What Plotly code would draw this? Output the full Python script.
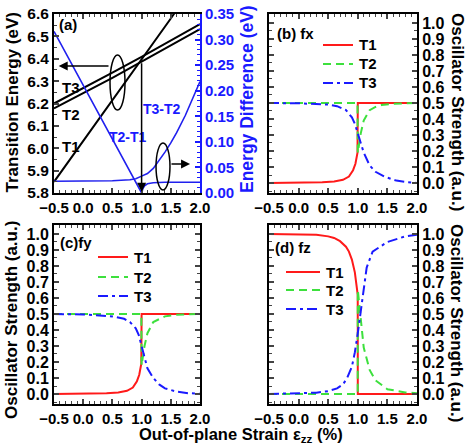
import plotly.graph_objects as go

# ---------------- data ----------------
# Panel (a): transition energies (eV)
x_E = [-0.5, 0.0, 0.5, 1.0, 1.5, 2.0]
E_steep = [5.85, 6.032, 6.216, 6.398, 6.58, 6.77]
E_low = [6.178, 6.245, 6.315, 6.387, 6.46, 6.532]
E_up = [6.200, 6.268, 6.338, 6.408, 6.482, 6.555]

# Panel (a): energy differences (eV)
x_d21 = [-0.5, 0.0, 0.5, 0.8, 0.9, 0.95, 1.0, 1.02, 1.05, 1.1, 1.2, 1.4, 2.0]
d21 = [0.316, 0.211, 0.106, 0.043, 0.022, 0.011, 0.0, 0.008, 0.014, 0.018, 0.020, 0.021, 0.021]
x_d32 = [-0.5, 0.0, 0.5, 0.8, 0.9, 1.0, 1.1, 1.2, 1.3, 1.4, 1.5, 1.6, 1.75, 1.9, 2.0]
d32 = [0.023, 0.023, 0.024, 0.026, 0.028, 0.033, 0.038, 0.048, 0.063, 0.08, 0.098, 0.118, 0.152, 0.19, 0.218]

# Panel (b): fx
xb_T1 = [-0.5, 0.0, 0.4, 0.6, 0.75, 0.85, 0.92, 0.96, 0.995, 1.0, 1.5, 2.0]
fb_T1 = [0.0, 0.002, 0.005, 0.01, 0.02, 0.04, 0.08, 0.12, 0.19, 0.5, 0.5, 0.5]
xb_T2 = [-0.5, 0.5, 0.995, 1.0, 1.05, 1.1, 1.2, 1.3, 1.4, 1.6, 2.0]
fb_T2 = [0.5, 0.5, 0.5, 0.19, 0.31, 0.39, 0.455, 0.475, 0.487, 0.495, 0.5]
xb_T3 = [-0.5, 0.0, 0.5, 0.65, 0.8, 0.9, 0.95, 1.0, 1.05, 1.1, 1.2, 1.3, 1.45, 1.65, 1.85, 2.0]
fb_T3 = [0.5, 0.498, 0.49, 0.48, 0.456, 0.41, 0.37, 0.31, 0.25, 0.19, 0.11, 0.07, 0.04, 0.015, 0.005, 0.0]

# Panel (c): fy
xc_T1 = [-0.5, 0.0, 0.4, 0.6, 0.75, 0.85, 0.92, 0.96, 0.995, 1.0, 1.5, 2.0]
fc_T1 = [0.0, 0.002, 0.005, 0.01, 0.02, 0.04, 0.08, 0.12, 0.19, 0.5, 0.5, 0.5]
xc_T2 = [-0.5, 0.5, 0.995, 1.0, 1.05, 1.1, 1.2, 1.4, 1.6, 2.0]
fc_T2 = [0.5, 0.5, 0.5, 0.18, 0.30, 0.38, 0.45, 0.485, 0.495, 0.5]
xc_T3 = [-0.5, 0.0, 0.5, 0.7, 0.8, 0.9, 0.95, 1.0, 1.05, 1.1, 1.2, 1.3, 1.4, 1.6, 1.8, 2.0]
fc_T3 = [0.5, 0.497, 0.485, 0.47, 0.45, 0.41, 0.37, 0.30, 0.22, 0.16, 0.10, 0.06, 0.035, 0.015, 0.005, 0.002]

# Panel (d): fz
xd_T1 = [-0.5, 0.0, 0.3, 0.5, 0.6, 0.7, 0.8, 0.85, 0.9, 0.95, 0.98, 0.999, 1.0, 2.0]
fd_T1 = [1.0, 0.998, 0.995, 0.985, 0.975, 0.955, 0.92, 0.89, 0.84, 0.76, 0.69, 0.62, 0.0, 0.0]
xd_T2 = [-0.5, 0.5, 0.999, 1.0, 1.05, 1.1, 1.2, 1.3, 1.5, 1.8, 2.0]
fd_T2 = [0.0, 0.0, 0.0, 0.65, 0.47, 0.29, 0.15, 0.085, 0.03, 0.01, 0.005]
xd_T3 = [-0.5, 0.0, 0.3, 0.5, 0.65, 0.75, 0.82, 0.9, 0.95, 1.0, 1.05, 1.1, 1.15, 1.25, 1.5, 1.8, 2.0]
fd_T3 = [0.0, 0.003, 0.008, 0.018, 0.035, 0.06, 0.1, 0.17, 0.26, 0.38, 0.52, 0.68, 0.79, 0.89, 0.95, 0.985, 0.995]

series_names = ["T1", "T2", "T3"]

# ---------------- style ----------------
W, H = 468, 444
FONT = "Liberation Sans, Arial, sans-serif"
RED, GREEN, BLUE = "#ff1a1a", "#3de03d", "#1a1aff"
styles = [dict(color=RED, width=2, dash="solid"),
          dict(color=GREEN, width=2, dash="8px,5px"),
          dict(color=BLUE, width=2, dash="10px,4px,3px,4px")]

def px_x(a, b):
    return [a / W, b / W]

def px_y(top, bottom):
    return [1 - bottom / H, 1 - top / H]

fig = go.Figure()

# panel (a)
for xs, ys in [(x_E, E_steep), (x_E, E_low), (x_E, E_up)]:
    fig.add_trace(go.Scatter(x=xs, y=ys, mode="lines", line=dict(color="black", width=2),
                             xaxis="x", yaxis="y", showlegend=False))
for xs, ys in [(x_d21, d21), (x_d32, d32)]:
    fig.add_trace(go.Scatter(x=xs, y=ys, mode="lines", line=dict(color="#2020ee", width=1.6),
                             xaxis="x", yaxis="y2", showlegend=False))

panels = [
    ("x2", "y3", [(xb_T1, fb_T1), (xb_T2, fb_T2), (xb_T3, fb_T3)]),
    ("x3", "y4", [(xc_T1, fc_T1), (xc_T2, fc_T2), (xc_T3, fc_T3)]),
    ("x4", "y5", [(xd_T1, fd_T1), (xd_T2, fd_T2), (xd_T3, fd_T3)]),
]
for xa, ya, data in panels:
    for name, (xs, ys), st in zip(series_names, data, styles):
        fig.add_trace(go.Scatter(x=xs, y=ys, mode="lines", name=name, line=st,
                                 xaxis=xa, yaxis=ya, showlegend=False))

xtickfont = dict(family=FONT, size=15, color="black")
tickfont = dict(family=FONT, size=16, color="black")
common_tick = dict(tickprefix="<b>", ticksuffix="</b>", tickangle=0, automargin=False,
                   ticks="inside", ticklen=5, tickwidth=1.5, showgrid=False, zeroline=False)

def xaxis(domain, anchor):
    return dict(domain=domain, anchor=anchor, range=[-0.5, 2.0], dtick=0.5, tick0=-0.5,
                tickformat=".1f",
                minor=dict(ticks="inside", dtick=0.1, ticklen=3, tickwidth=1),
                showline=True, linewidth=2, linecolor="black", mirror="ticks",
                tickfont=xtickfont, ticklabelstandoff=0, **common_tick)

def oscaxis(domain, anchor, side):
    return dict(domain=domain, anchor=anchor, side=side, range=[-0.0625, 1.056], dtick=0.1,
                tick0=0, tickformat=".1f",
                minor=dict(ticks="inside", dtick=0.05, ticklen=3, tickwidth=1),
                showline=True, linewidth=2, linecolor="black", mirror="ticks",
                tickfont=tickfont, **common_tick)

xa_dom = px_x(54, 200)
xb_dom = px_x(269, 417)
top_dom = px_y(14, 193)
bot_dom = px_y(225, 404)

fig.update_layout(
    width=W, height=H, margin=dict(l=0, r=0, t=0, b=0, autoexpand=False),
    paper_bgcolor="white", plot_bgcolor="white", showlegend=False,
    font=dict(family=FONT, color="black"),
    xaxis=xaxis(xa_dom, "y"),
    yaxis=dict(domain=top_dom, anchor="x", range=[5.8, 6.6], dtick=0.1, tick0=5.8,
               tickformat=".1f",
               minor=dict(ticks="inside", dtick=0.05, ticklen=3, tickwidth=1),
               showline=True, linewidth=2, linecolor="black",
               tickfont=dict(family=FONT, size=15.5, color="black"), **common_tick),
    yaxis2=dict(overlaying="y", anchor="x", side="right", range=[0, 0.35], dtick=0.05,
                tickformat=".2f", tickcolor=BLUE,
                minor=dict(ticks="inside", dtick=0.01, ticklen=3, tickwidth=1, tickcolor=BLUE),
                showline=True, linewidth=2, linecolor=BLUE,
                tickfont=dict(family=FONT, size=15, color=BLUE), **common_tick),
    xaxis2=xaxis(xb_dom, "y3"),
    yaxis3=oscaxis(top_dom, "x2", "right"),
    xaxis3=xaxis(xa_dom, "y4"),
    yaxis4=oscaxis(bot_dom, "x3", "left"),
    xaxis4=xaxis(xb_dom, "y5"),
    yaxis5=oscaxis(bot_dom, "x4", "right"),
)

def fnt(size, color="black"):
    return dict(family=FONT, size=size, color=color)

def B(t):
    return "<b>" + t + "</b>"

ann = []

def paper_text(text, x, y, size, color="black", angle=0, xanchor="center"):
    ann.append(dict(text=B(text), x=x / W, y=1 - y / H, xref="paper", yref="paper",
                    xanchor=xanchor, yanchor="middle", textangle=angle, showarrow=False,
                    font=fnt(size, color)))

# axis titles
paper_text("Transition Energy (eV)", 12.5, 103, 17, angle=-90)
paper_text("Energy Difference (eV)", 247, 99, 17.5, BLUE, angle=-90)
paper_text("Oscillator Strength (a.u.)", 457, 112, 17, angle=90)
paper_text("Oscillator Strength (a.u.)", 11, 320, 17, angle=-90)
paper_text("Oscillator Strength (a.u.)", 457, 323, 17, angle=90)
paper_text("Out-of-plane Strain ε<sub>zz</sub> (%)", 241, 435, 16.5)

# legends (drawn as sample line + label)
legend_specs = [
    (323, 353, [45, 64, 83]),
    (98, 128, [257, 277, 296]),
    (286, 320, [272, 290, 309]),
]
for x0, x1, ys in legend_specs:
    for name, st, yy in zip(series_names, styles, ys):
        fig.add_shape(type="line", xref="paper", yref="paper", x0=x0 / W, x1=x1 / W,
                      y0=1 - yy / H, y1=1 - yy / H, line=st)
        paper_text(name, x1 + 4, yy, 15, xanchor="left")

def data_text(text, x, y, xr, yr, size, color="black", xanchor="center"):
    ann.append(dict(text=B(text), x=x, y=y, xref=xr, yref=yr, xanchor=xanchor, yanchor="middle",
                    showarrow=False, font=fnt(size, color)))

# panel labels
data_text("(a)", -0.454, 6.551, "x", "y", 15, xanchor="left")
data_text("(b) fx", -0.399, 0.936, "x2", "y3", 15, xanchor="left")
data_text("(c)fy", -0.433, 0.946, "x3", "y4", 15, xanchor="left")
data_text("(d) fz", -0.427, 0.915, "x4", "y5", 15, xanchor="left")

# curve labels in (a)
for t, yy in [("T3", 6.272), ("T2", 6.149), ("T1", 6.007)]:
    data_text(t, -0.21, yy, "x", "y", 15)
data_text("T2-T1", 0.772, 6.052, "x", "y", 14, BLUE)
data_text("T3-T2", 1.354, 6.174, "x", "y", 14, BLUE)

# arrows in (a)
ann.append(dict(x=-0.42, y=6.368, ax=0.459, ay=6.368, xref="x", yref="y", axref="x", ayref="y",
                showarrow=True, arrowhead=2, arrowsize=1.2, arrowwidth=1.5, arrowcolor="black", text=""))
ann.append(dict(x=1.0, y=5.806, ax=1.0, ay=6.387, xref="x", yref="y", axref="x", ayref="y",
                showarrow=True, arrowhead=2, arrowsize=1.2, arrowwidth=1.5, arrowcolor="black", text=""))
ann.append(dict(x=1.83, y=0.0567, ax=1.486, ay=0.0567, xref="x", yref="y2", axref="x", ayref="y2",
                showarrow=True, arrowhead=2, arrowsize=1.2, arrowwidth=1.5, arrowcolor="black", text=""))

fig.update_layout(annotations=ann)

# ellipses
fig.add_shape(type="circle", xref="x", yref="y", x0=0.459, x1=0.716, y0=6.171, y1=6.417,
              line=dict(color="black", width=1.5))
fig.add_shape(type="circle", xref="x", yref="y2", x0=1.247, x1=1.486, y0=0.006, y1=0.0978,
              line=dict(color="black", width=1.5))

fig.write_html("out.html")
